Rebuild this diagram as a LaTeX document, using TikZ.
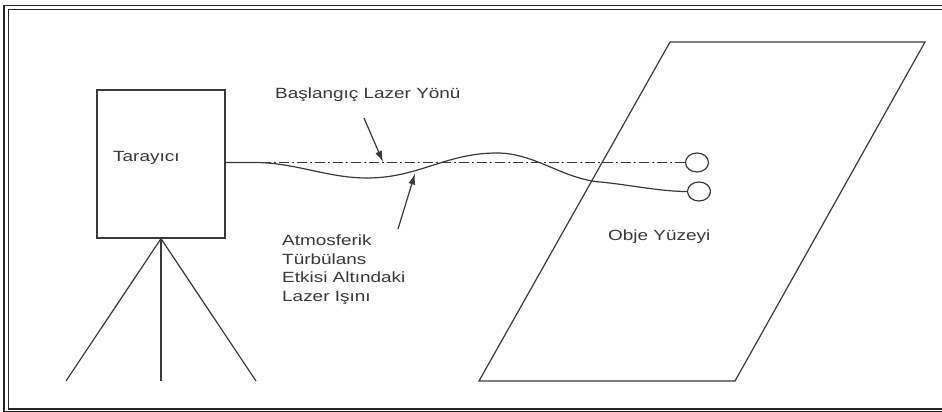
\documentclass[tikz,border=0pt]{standalone}
\usepackage{fontspec}
\setmainfont{Liberation Sans}[FakeStretch=1.28]
\usetikzlibrary{shapes.geometric,arrows.meta}
\definecolor{linegray}{HTML}{3A3A3A}
\begin{document}
\begin{tikzpicture}[x=1pt,y=-1pt,
  thin line/.style={draw=linegray, line width=1.2pt},
  frame line/.style={draw=black!85, line width=1.4pt},
  lbl/.style={font=\fontsize{14.8pt}{18.6pt}\selectfont, text=black!78, inner sep=0pt},
  pointer/.style={thin line, -{Latex[length=11pt,width=7pt]}},
  endcircle/.style={ellipse, thin line, minimum width=23pt, minimum height=19pt, inner sep=0pt}]
\useasboundingbox (0,0) rectangle (942,412);
\fill[white] (0,0) rectangle (942,412);
% frame (double line)
\draw[frame line] (942,5.5) -- (4,5.5) -- (4,411.3) -- (942,411.3);
\draw[frame line] (942,9.8) -- (8.2,9.8) -- (8.2,408.8) -- (942,408.8);
% scanner
\node[thin line, minimum width=128pt, minimum height=148pt, inner sep=0pt] (scanner) at (161,164) {};
\node[lbl, anchor=base west] (scannerlabel) at (113,161) {Tarayıcı};
% tripod
\coordinate (apex) at (scanner.south);
\coordinate (legL) at (66,381);
\coordinate (legM) at (161,381);
\coordinate (legR) at (256,381);
\draw[thin line] (apex) -- (legL);
\draw[thin line] (apex) -- (legM);
\draw[thin line] (apex) -- (legR);
% object surface
\coordinate (p1) at (670,42);
\coordinate (p2) at (925,42);
\coordinate (p3) at (735,381);
\coordinate (p4) at (479,381);
\draw[thin line] (p1) -- (p2) -- (p3) -- (p4) -- cycle;
\node[lbl, anchor=base west] (objlabel) at (608,240.5) {Obje Yüzeyi};
% end circles
\node[endcircle] (c1) at (697,162.5) {};
\node[endcircle] (c2) at (699,191.5) {};
% beams
\coordinate (beamstart) at (225,162.5);
\draw[thin line, dash pattern=on 10pt off 3pt on 2pt off 3pt] (beamstart) -- (c1.west);
\draw[thin line] (beamstart) -- ++(30,0)
  to[out=0,in=180,looseness=0.9] (367,178)
  to[out=0,in=180] (497,153)
  to[out=0,in=175,looseness=0.9] (600,182)
  to[out=-5,in=180,looseness=0.8] (c2.west);
% labels and pointers
\node[lbl, anchor=base west] (startlabel) at (275,99) {Başlangıç Lazer Yönü};
\coordinate (a1tail) at (364,118);
\coordinate (a1tip) at (383,162);
\draw[pointer] (a1tail) -- (a1tip);
\node[lbl, anchor=base west, align=left] (turblabel) at (282,301.5) {Atmosferik\\Türbülans\\Etkisi Altındaki\\Lazer Işını};
\coordinate (a2tail) at (398,229);
\coordinate (a2tip) at (415,173.5);
\draw[pointer] (a2tail) -- (a2tip);
\end{tikzpicture}
\end{document}
